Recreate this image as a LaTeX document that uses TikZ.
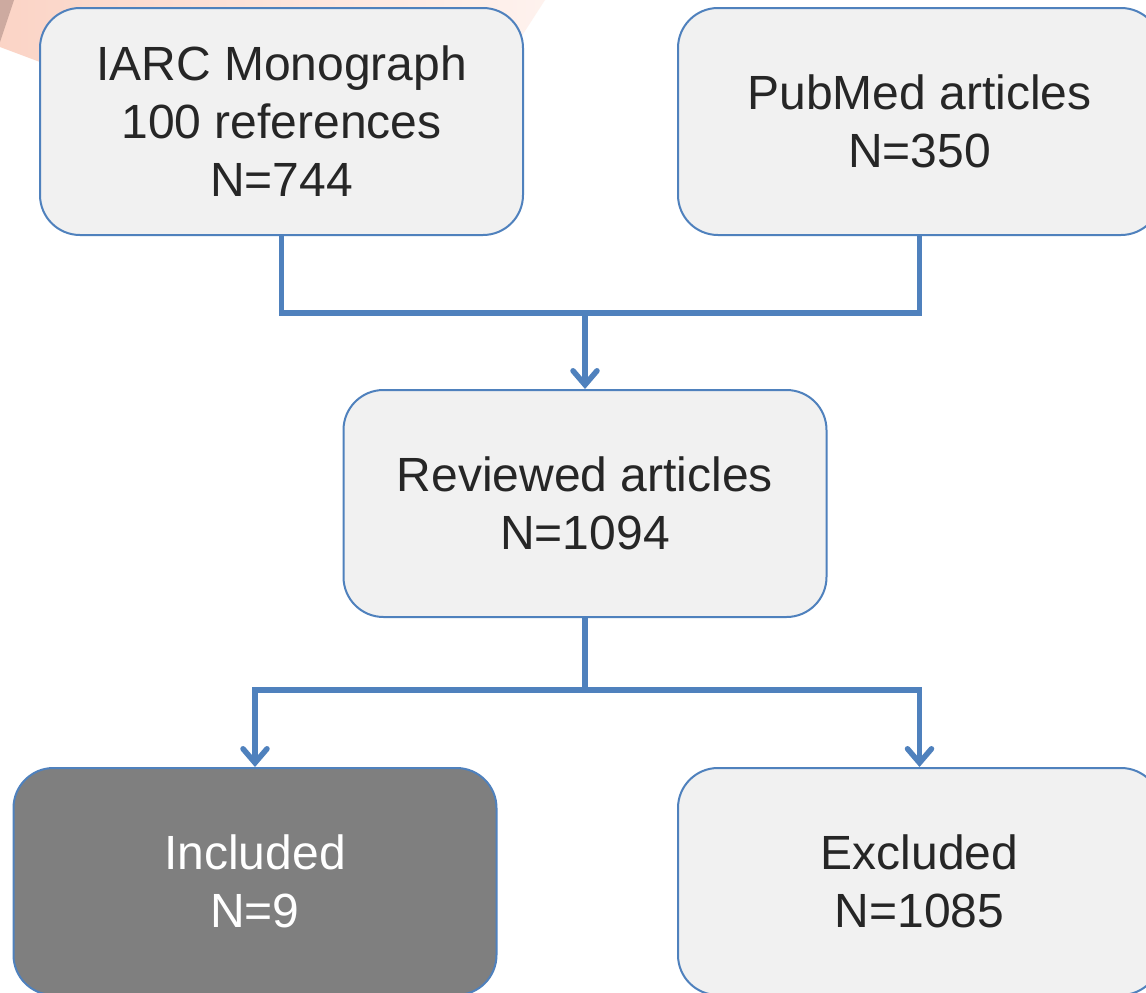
\documentclass[tikz,border=0pt]{standalone}
\usepackage{fontspec}
\setmainfont{Liberation Sans}
\usetikzlibrary{arrows.meta}
\definecolor{lineblue}{RGB}{79,129,189}
\definecolor{boxfill}{RGB}{241,241,241}
\definecolor{darkfill}{RGB}{127,127,127}
\definecolor{txt}{RGB}{38,38,38}
\definecolor{pinkbg}{RGB}{251,212,198}
\definecolor{brownbg}{RGB}{205,170,160}
\tikzset{
  box/.style={draw=lineblue, line width=2pt, fill=boxfill, rounded corners=40pt,
    minimum width=483pt, minimum height=227pt, inner sep=0pt, align=center,
    text=txt, font=\fontsize{48}{58}\selectfont},
  darkbox/.style={box, fill=darkfill, text=white},
  conn/.style={draw=lineblue, line width=5.5pt},
  arr/.style={conn, -{Straight Barb[length=14pt,width=24pt,line cap=round]}}
}
\begin{document}
\begin{tikzpicture}[x=1pt,y=-1pt]
\useasboundingbox (0,0) rectangle (1146,993);
\fill[white] (0,0) rectangle (1146,993);
% decorative background band
\shade[left color=pinkbg, right color=pinkbg!30!white]
  (0,0) -- (545,0) -- (505,62) -- (40,62) -- (0,47) -- cycle;
\fill[brownbg] (0,0) -- (14,0) -- (0,42) -- cycle;
% boxes
\node[box] (iarc) at (281.5,121.5) {IARC Monograph\\100 references\\N=744};
\node[box] (pub) at (919.5,121.5) {PubMed articles\\N=350};
\node[box] (rev) at (585,503.5) {Reviewed articles\\N=1094};
\node[darkbox] (inc) at (255,881.5) {Included\\N=9};
\node[box] (exc) at (919.5,881.5) {Excluded\\N=1085};
% connectors
\coordinate (j1) at (585,313);
\coordinate (j2) at (585,690);
\draw[conn] (iarc.south) |- (j1);
\draw[conn] (pub.south) |- (j1);
\draw[arr] (j1) -- (rev.north);
\draw[conn] (rev.south) -- (j2);
\draw[arr] (j2) -| (inc.north);
\draw[arr] (j2) -| (exc.north);
\end{tikzpicture}
\end{document}
